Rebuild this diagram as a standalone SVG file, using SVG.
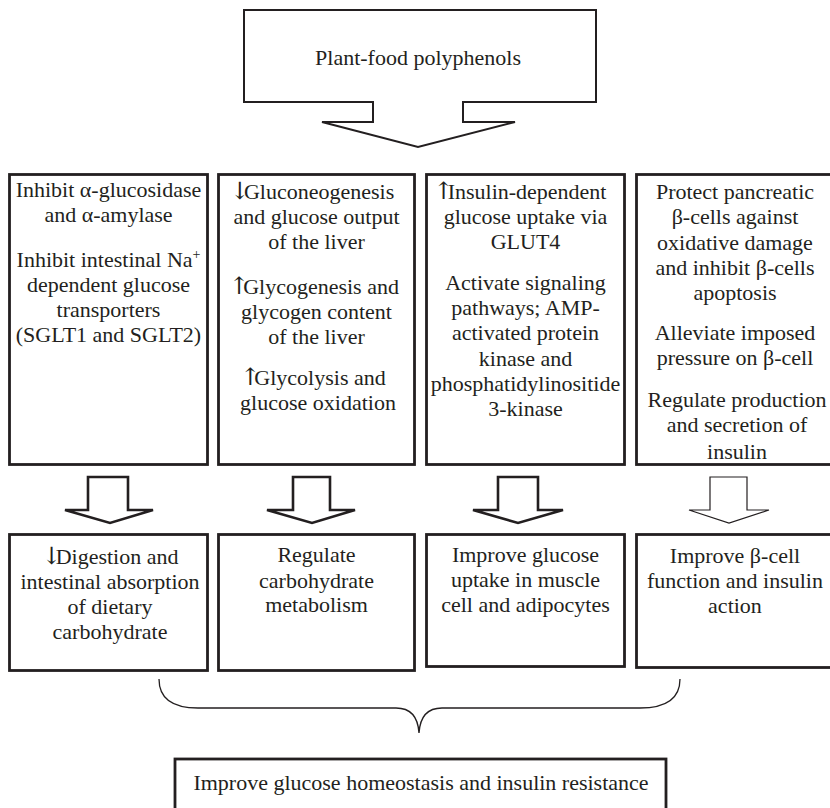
<svg xmlns="http://www.w3.org/2000/svg" width="830" height="808" viewBox="0 0 830 808">
<style>
text{font-family:"Liberation Serif","Times New Roman",serif;font-size:22px;fill:#231f20;text-anchor:middle}
.box{fill:#fff;stroke:#231f20;stroke-width:2.8}
.callout{fill:#fff;stroke:#231f20;stroke-width:2;stroke-linejoin:miter}
.barrow{fill:#fff;stroke:#231f20;stroke-width:2.6;stroke-linejoin:miter}
.barrow-thin{fill:#fff;stroke:#231f20;stroke-width:1.2;stroke-linejoin:miter}
.brace{fill:none;stroke:#231f20;stroke-width:1.3}
.sup{font-size:14px}
.ar{font-family:"DejaVu Serif","Liberation Serif",serif;font-size:24px;font-weight:200;letter-spacing:-6px}
</style>
<rect width="830" height="808" fill="#fff"/>

<g id="source">
<path class="callout" d="M244,10 H596 V102 H463 V122 H515 L418,147 L322,122 H373 V102 H244 Z"/>
<text x="418" y="65">Plant-food polyphenols</text>
</g>

<g id="mech-digestion">
<rect class="box" x="9.5" y="174.5" width="198" height="290"/>
<text x="108.5" y="197">Inhibit α-glucosidase</text>
<text x="108.5" y="222">and α-amylase</text>
<text x="108.5" y="267">Inhibit intestinal Na<tspan class="sup" dy="-8">+</tspan></text>
<text x="108.5" y="292">dependent glucose</text>
<text x="108.5" y="317">transporters</text>
<text x="108.5" y="342">(SGLT1 and SGLT2)</text>
</g>

<g id="mech-liver">
<rect class="box" x="218.5" y="174.5" width="196" height="290"/>
<text x="312" y="199"><tspan class="ar">↓</tspan>Gluconeogenesis</text>
<text x="316.5" y="224">and glucose output</text>
<text x="316.5" y="249">of the liver</text>
<text x="314" y="294"><tspan class="ar">↑</tspan>Glycogenesis and</text>
<text x="316.5" y="319">glycogen content</text>
<text x="316.5" y="344">of the liver</text>
<text x="313" y="385"><tspan class="ar">↑</tspan>Glycolysis and</text>
<text x="318" y="410">glucose oxidation</text>
</g>

<g id="mech-muscle">
<rect class="box" x="426.5" y="174.5" width="198" height="290"/>
<text x="520" y="199"><tspan class="ar">↑</tspan>Insulin-dependent</text>
<text x="525.5" y="224">glucose uptake via</text>
<text x="525.5" y="249">GLUT4</text>
<text x="525.5" y="290">Activate signaling</text>
<text x="525.5" y="315">pathways; AMP-</text>
<text x="525.5" y="340">activated protein</text>
<text x="525.5" y="366">kinase and</text>
<text x="525.5" y="391">phosphatidylinositide</text>
<text x="525.5" y="416">3-kinase</text>
</g>

<g id="mech-beta">
<rect class="box" x="636.5" y="174.5" width="200" height="290"/>
<text x="735" y="199">Protect pancreatic</text>
<text x="735" y="224">β-cells against</text>
<text x="735" y="250">oxidative damage</text>
<text x="735" y="275">and inhibit β-cells</text>
<text x="735" y="300">apoptosis</text>
<text x="735" y="340">Alleviate imposed</text>
<text x="735" y="365">pressure on β-cell</text>
<text x="737" y="407">Regulate production</text>
<text x="737" y="432">and secretion of</text>
<text x="737" y="459">insulin</text>
</g>

<g id="effect-digestion">
<rect class="box" x="9.5" y="534.5" width="198" height="136"/>
<text x="110" y="564"><tspan class="ar">↓</tspan>Digestion and</text>
<text x="110" y="589">intestinal absorption</text>
<text x="110" y="614">of dietary</text>
<text x="110" y="639">carbohydrate</text>
</g>

<g id="effect-carb">
<rect class="box" x="218.5" y="534.5" width="196" height="136"/>
<text x="316.5" y="562">Regulate</text>
<text x="316.5" y="588">carbohydrate</text>
<text x="316.5" y="612">metabolism</text>
</g>

<g id="effect-uptake">
<rect class="box" x="426.5" y="534.5" width="198" height="132"/>
<text x="525.5" y="562">Improve glucose</text>
<text x="525.5" y="587">uptake in muscle</text>
<text x="525.5" y="612">cell and adipocytes</text>
</g>

<g id="effect-beta">
<rect class="box" x="636.5" y="534.5" width="200" height="133"/>
<text x="735" y="563">Improve β-cell</text>
<text x="735" y="588">function and insulin</text>
<text x="735" y="613">action</text>
</g>

<g id="outcome">
<rect class="box" x="175" y="759" width="491" height="70"/>
<text x="421" y="790">Improve glucose homeostasis and insulin resistance</text>
</g>

<g id="connectors">
<path class="barrow" d="M88,477 H128 V510 H153 L110,523 L65,510 H88 Z"/>
<path class="barrow" d="M293,477 H330 V510 H355 L312,523 L267,510 H293 Z"/>
<path class="barrow" d="M498,477 H538 V510 H563 L518,523 L473,510 H498 Z"/>
<path class="barrow-thin" d="M710,477 H747 V510 H769 L729,523 L689,510 H710 Z"/>
<path class="brace" d="M159,679 C159,697 170,708 198,708 H396 C411,708 418,717 419,733 C420,717 427,708 442,708 H640 C668,708 680,697 680,679"/>
</g>
</svg>
